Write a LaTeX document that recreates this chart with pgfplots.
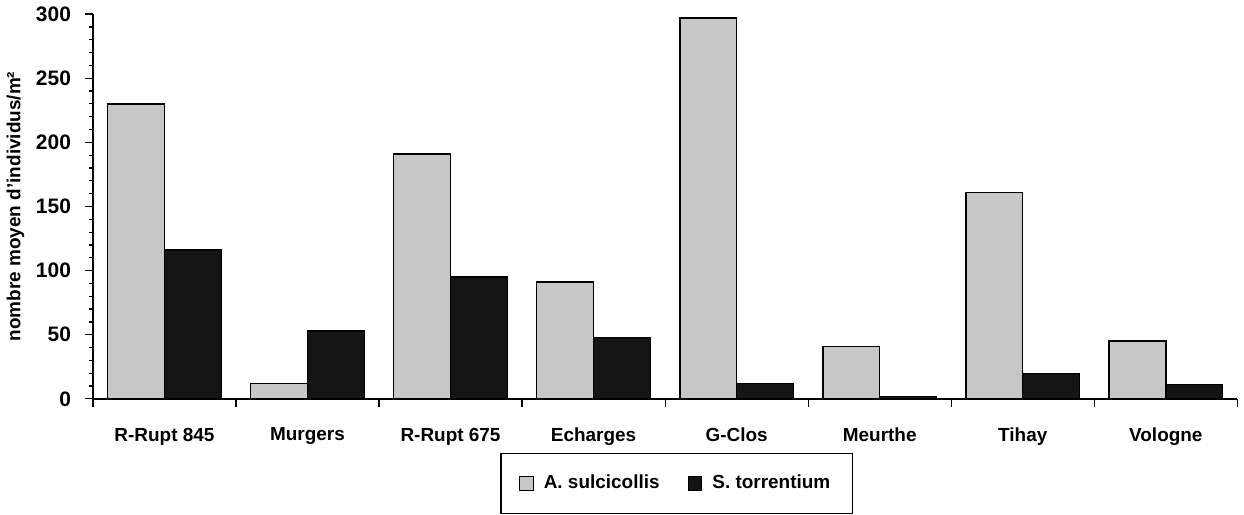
\documentclass[border=0pt]{standalone}
\usepackage{fontspec}
\setmainfont{Liberation Sans}
\usepackage{pgfplots}
\pgfplotsset{compat=1.18}
\begin{document}
\begin{tikzpicture}
\begin{axis}[
    scale only axis,
    width=574pt, height=193pt,
    xmin=-0.5, xmax=7.5,
    ymin=0, ymax=300,
    ytick={0,50,...,300},
    minor y tick num=4,
    xtick={-0.5,0.5,...,7.5},
    xticklabels={},
    extra x ticks={0,...,7},
    extra x tick labels={R-Rupt 845,Murgers,R-Rupt 675,Echarges,G-Clos,Meurthe,Tihay,Vologne},
    extra x tick style={tick style={draw=none}},
    xtick style={black, line width=0.6pt},
    x tick label style={yshift=-7pt},
    axis lines*=left,
    axis line style={line width=0.8pt},
    ytick style={black, line width=0.6pt},
    major tick length=4pt,
    minor tick length=2pt,
    tick align=outside,
    ylabel={nombre moyen d'individus/m²},
    ylabel style={font=\fontsize{9.5}{11}\selectfont\bfseries, yshift=-1pt},
    tick label style={font=\fontsize{9.5}{11}\selectfont\bfseries},
    yticklabel style={font=\fontsize{10.5}{12}\selectfont\bfseries, xshift=-3.5pt},
    /pgf/number format/assume math mode=true,
    ybar=0pt,
    bar width=28.5pt,
    legend style={
        at={(0.51,0)}, anchor=north, yshift=-27pt,
        draw=black, line width=0.6pt,
        inner xsep=9pt, inner ysep=9pt,
        font=\fontsize{9.5}{11}\selectfont\bfseries,
        /tikz/every even column/.append style={column sep=12pt}
    },
    legend columns=2,
    legend image code/.code={\draw[#1, draw=black, line width=0.5pt] (0pt,-3.5pt) rectangle (7pt,3.5pt);},
]
\addplot[fill=black!22, draw=black, line width=0.7pt] coordinates {
(0,230) (1,12) (2,191) (3,91) (4,297) (5,41) (6,161) (7,45)};
\addplot[fill=black!92, draw=black, line width=0.7pt] coordinates {
(0,116) (1,53) (2,95) (3,48) (4,12) (5,2) (6,20) (7,11)};
\legend{\hspace{3pt}A. sulcicollis,\hspace{3pt}S. torrentium}
\end{axis}
\end{tikzpicture}
\end{document}
